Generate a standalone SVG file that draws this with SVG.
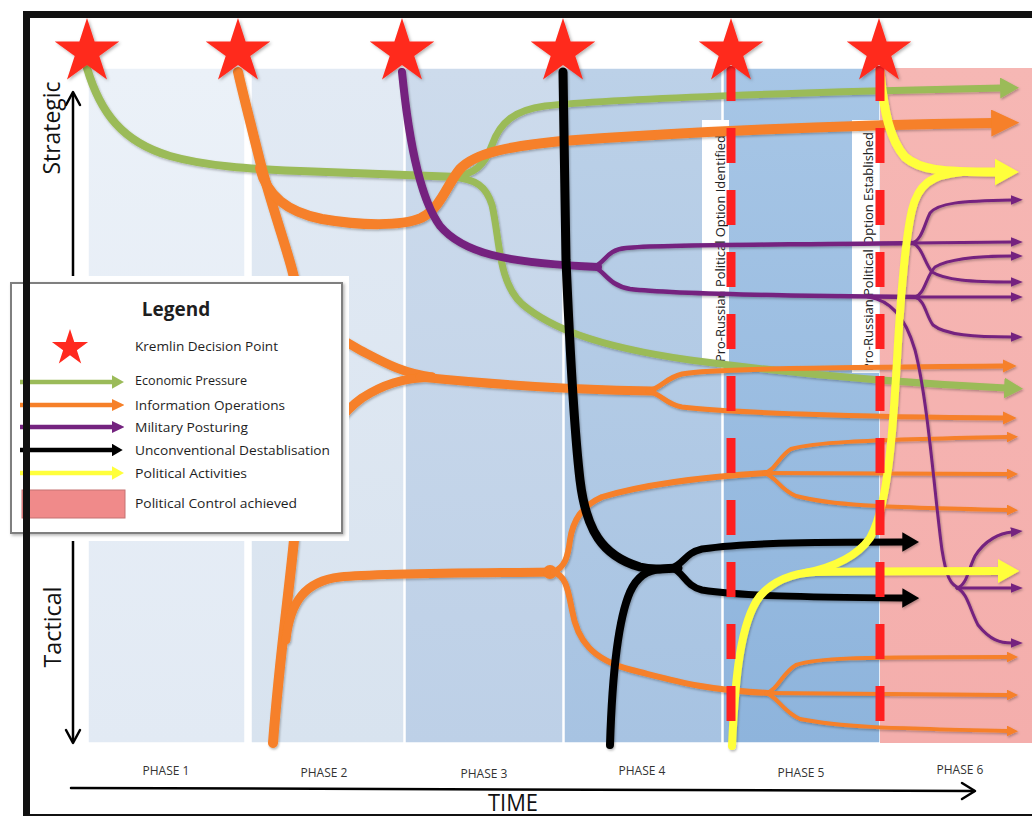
<svg xmlns="http://www.w3.org/2000/svg" width="1032" height="816" viewBox="0 0 1032 816">
  <defs>
    <style>
      .txt{font-family:"Open Sans","Liberation Sans",sans-serif;fill:#1e1e1e}
      .phase{font-size:12px;text-anchor:middle;fill:#333}
      .axis{font-size:23px;fill:#111;text-anchor:middle}
      .leg{font-size:13px}
      .vlabel{font-size:13px;fill:#222}
      .ln{fill:none;stroke-linecap:round;stroke-linejoin:round}
      .g{stroke:#9bbb59}
      .o{stroke:#f68029}
      .p{stroke:#74237f}
      .k{stroke:#000}
      .y{stroke:#ffff3b}
      .dash{fill:none;stroke:#ff2020;stroke-width:9;stroke-dasharray:35 27}
      .panel{stroke:#fff;stroke-width:1.5}
      .star{fill:#ff2a1f}
      .ax{fill:none;stroke:#000;stroke-width:2.5;stroke-linecap:round;stroke-linejoin:round}
    </style>
    <linearGradient id="ph1" x1="0" y1="0" x2="0" y2="1"><stop offset="0" stop-color="#ebf1f8"/><stop offset="1" stop-color="#e2eaf4"/></linearGradient>
    <linearGradient id="ph2" x1="0" y1="0" x2="0" y2="1"><stop offset="0" stop-color="#e2eaf4"/><stop offset="1" stop-color="#d8e3ef"/></linearGradient>
    <linearGradient id="ph3" x1="0" y1="0" x2="0" y2="1"><stop offset="0" stop-color="#cddbec"/><stop offset="1" stop-color="#bdd0e7"/></linearGradient>
    <linearGradient id="ph4" x1="0" y1="0" x2="0" y2="1"><stop offset="0" stop-color="#bcd1e8"/><stop offset="1" stop-color="#a7c3e2"/></linearGradient>
    <linearGradient id="ph5" x1="0" y1="0" x2="0" y2="1"><stop offset="0" stop-color="#a7c6e6"/><stop offset="1" stop-color="#8eb4dc"/></linearGradient>
    <linearGradient id="ph6" x1="0" y1="0" x2="0" y2="1"><stop offset="0" stop-color="#f6b7b4"/><stop offset="1" stop-color="#f4aeac"/></linearGradient>

    <marker id="ah-g" viewBox="0 0 10 10" refX="1" refY="5" markerWidth="2.7" markerHeight="3" preserveAspectRatio="none" orient="auto" markerUnits="strokeWidth"><path d="M0,0 L10,5 L0,10 z" fill="#9bbb59"/></marker>
    <marker id="ah-o" viewBox="0 0 10 10" refX="1" refY="5" markerWidth="2.8" markerHeight="2.7" preserveAspectRatio="none" orient="auto" markerUnits="strokeWidth"><path d="M0,0 L10,5 L0,10 z" fill="#f68029"/></marker>
    <marker id="ah-p" viewBox="0 0 10 10" refX="1" refY="5" markerWidth="4" markerHeight="3.2" preserveAspectRatio="none" orient="auto" markerUnits="strokeWidth"><path d="M0,0 L10,5 L0,10 z" fill="#74237f"/></marker>
    <marker id="ah-pl" viewBox="0 0 10 10" refX="1" refY="5" markerWidth="2.8" markerHeight="2.7" preserveAspectRatio="none" orient="auto" markerUnits="strokeWidth"><path d="M0,0 L10,5 L0,10 z" fill="#74237f"/></marker>
    <marker id="ah-k" viewBox="0 0 10 10" refX="1" refY="5" markerWidth="2.4" markerHeight="2.8" preserveAspectRatio="none" orient="auto" markerUnits="strokeWidth"><path d="M0,0 L10,5 L0,10 z" fill="#000"/></marker>
    <marker id="ah-y" viewBox="0 0 10 10" refX="1" refY="5" markerWidth="2.7" markerHeight="3" preserveAspectRatio="none" orient="auto" markerUnits="strokeWidth"><path d="M0,0 L10,5 L0,10 z" fill="#ffff3b"/></marker>

    <path id="star" d="M0,-34 L7.6,-10.5 L32.3,-10.5 L12.3,4 L20,27.5 L0,13 L-20,27.5 L-12.3,4 L-32.3,-10.5 L-7.6,-10.5 Z"/>

    <filter id="sh" x="-5%" y="-5%" width="110%" height="110%">
      <feDropShadow dx="1" dy="1.5" stdDeviation="1.2" flood-color="#000" flood-opacity="0.28"/>
    </filter>
    <filter id="sh2" x="-10%" y="-10%" width="120%" height="120%">
      <feDropShadow dx="1.5" dy="1.5" stdDeviation="1.5" flood-color="#000" flood-opacity="0.3"/>
    </filter>
  </defs>

  <rect width="1032" height="816" fill="#fff"/>

  <!-- phase columns -->
  <g id="phases">
    <rect class="panel" x="88" y="68" width="157" height="675" fill="url(#ph1)"/>
    <rect class="panel" x="251" y="68" width="153" height="675" fill="url(#ph2)"/>
    <rect class="panel" x="405" y="68" width="158" height="675" fill="url(#ph3)"/>
    <rect class="panel" x="564" y="68" width="158" height="675" fill="url(#ph4)"/>
    <rect class="panel" x="723" y="68" width="157" height="675" fill="url(#ph5)"/>
    <rect x="880" y="68" width="152" height="675" fill="url(#ph6)"/>
  </g>

  <!-- milestone labels -->
  <g id="milestone-identified">
    <rect x="702" y="120" width="27" height="243" fill="#fff"/>
    <text class="txt vlabel" transform="translate(725,362) rotate(-90)" textLength="227" lengthAdjust="spacingAndGlyphs">Pro-Russian Political Option Identified</text>
  </g>
  <g id="milestone-established">
    <rect x="852" y="120" width="27" height="253" fill="#fff"/>
    <text class="txt vlabel" transform="translate(873,371) rotate(-90)" textLength="239" lengthAdjust="spacingAndGlyphs">Pro-Russian Political Option Established</text>
  </g>

  <!-- strands of activity -->
  <g id="connectors" filter="url(#sh)">
    <g id="economic-pressure" class="ln g">
      <path stroke-width="8" d="M87,68 C100,112 122,142 170,156 C205,166 250,169 300,171 C360,173 420,176 458,177"/>
      <path stroke-width="7" marker-end="url(#ah-g)" d="M452,177 C474,175 485,165 492,145 C500,122 515,110 545,106 C610,99 800,92 1002,88"/>
      <path stroke-width="7" marker-end="url(#ah-g)" d="M452,177 C476,179 486,186 492,205 C500,240 498,282 522,304 C548,326 592,346 690,360 C780,372 880,382 1006,388"/>
    </g>
    <g id="information-operations" class="ln o">
      <path stroke-width="10" d="M273,743 C279,662 289,592 294,540 L298,300 C296,272 276,222 261,165 C251,125 244,98 238,72"/>
      <path stroke-width="10" marker-end="url(#ah-o)" d="M260,168 C267,196 287,212 322,219 C362,226 402,226 421,218 C441,208 446,186 460,169 C476,152 512,146 562,141 C700,131 850,125 994,123"/>
      <path stroke-width="9" d="M298,305 C318,325 338,338 360,350 C385,363 402,373 432,377"/>
      <path stroke-width="9" d="M296,480 C318,445 342,412 362,398 C382,385 402,378 432,377"/>
      <path stroke-width="9" d="M420,377 C480,383 560,390 652,391"/>
      <path stroke-width="5" marker-end="url(#ah-o)" d="M648,391 C662,388 665,378 682,374 C705,370 760,368 1004,366"/>
      <path stroke-width="5" marker-end="url(#ah-o)" d="M648,391 C662,394 665,404 682,407 C722,412 852,417 1004,418"/>
      <path stroke-width="9" d="M286,640 C290,602 305,581 340,577 C380,573 480,573 553,572"/>
      <circle cx="550" cy="572" r="7" fill="#f68029" stroke="none"/>
      <path stroke-width="6" d="M553,572 C565,568 568,556 570,540 C573,520 582,506 602,497 C642,485 702,477 766,473"/>
      <path stroke-width="6" d="M553,572 C566,575 568,590 572,610 C577,640 592,660 632,670 C672,680 702,690 768,693"/>
      <path stroke-width="4" marker-end="url(#ah-o)" d="M764,473 C776,470 779,456 791,449 C811,443 851,440 1008,437"/>
      <path stroke-width="4" marker-end="url(#ah-o)" d="M764,473 L1008,474"/>
      <path stroke-width="4" marker-end="url(#ah-o)" d="M764,473 C776,476 779,489 796,496 C831,505 871,507 1008,510"/>
      <path stroke-width="4" marker-end="url(#ah-o)" d="M766,693 C778,690 782,673 796,665 C816,658 851,657 1008,657"/>
      <path stroke-width="4" marker-end="url(#ah-o)" d="M766,693 L1008,695"/>
      <path stroke-width="4" marker-end="url(#ah-o)" d="M766,693 C778,697 782,711 800,719 C840,727 880,728 1008,731"/>
    </g>
    <g id="military-posturing" class="ln p">
      <path stroke-width="8" d="M402,72 C408,132 418,196 440,226 C462,252 502,263 598,267"/>
      <path stroke-width="4.5" d="M594,267 C606,262 606,250 626,248 C662,244 800,245 915,243"/>
      <path stroke-width="4.5" d="M594,267 C606,272 608,285 630,289 C670,294 800,296 918,297"/>
      <path stroke-width="3" marker-end="url(#ah-p)" d="M912,243 C922,240 924,225 930,213 C938,203 960,201 1012,200"/>
      <path stroke-width="3" marker-end="url(#ah-p)" d="M912,243 L1012,242"/>
      <path stroke-width="3" marker-end="url(#ah-p)" d="M912,243 C922,246 924,262 932,272 C945,280 970,282 1012,282"/>
      <path stroke-width="3" marker-end="url(#ah-p)" d="M915,297 C925,294 926,276 935,267 C950,258 980,256 1012,256"/>
      <path stroke-width="3" marker-end="url(#ah-p)" d="M915,297 L1012,297"/>
      <path stroke-width="3" marker-end="url(#ah-p)" d="M915,297 C925,300 926,316 933,325 C945,335 975,337 1012,337"/>
      <path stroke-width="3" d="M868,297 C890,300 905,316 915,350 C928,400 935,500 942,550 C946,575 950,586 960,588"/>
      <path stroke-width="3" marker-end="url(#ah-p)" d="M957,588 C967,585 968,570 975,556 C985,540 1000,533 1012,532"/>
      <path stroke-width="3" marker-end="url(#ah-p)" d="M957,588 L1012,588"/>
      <path stroke-width="3" marker-end="url(#ah-p)" d="M957,588 C967,592 970,610 978,625 C990,640 1000,643 1012,643"/>
    </g>
    <g id="unconventional-destabilisation" class="ln k">
      <path stroke-width="9" d="M563,72 L566,260 C569,330 573,420 580,480 C586,530 602,556 640,567 C652,570 662,569 678,568"/>
      <path stroke-width="8" d="M610,745 C612,680 617,622 630,592 C637,577 646,570 662,569"/>
      <path stroke-width="7" marker-end="url(#ah-k)" d="M672,568 C684,564 685,553 702,549 C742,543 800,542 904,542"/>
      <path stroke-width="7" marker-end="url(#ah-k)" d="M672,568 C684,572 685,586 702,590 C742,596 800,597 904,598"/>
    </g>
    <g id="political-activities" class="ln y">
      <path stroke-width="9" marker-end="url(#ah-y)" d="M880,72 C884,112 890,140 905,157 C920,170 940,172 997,172"/>
      <path stroke-width="8" marker-end="url(#ah-y)" d="M732,746 C735,680 740,622 760,596 C775,579 795,573 815,572 C880,571 940,571 1000,571"/>
      <path stroke-width="8" d="M805,573 C835,567 858,555 870,538 C886,510 892,450 897,360 C901,290 905,240 912,210 C918,185 930,175 962,172"/>
    </g>
  </g>

  <!-- decision milestones -->
  <g id="milestone-lines">
    <path class="dash" d="M731,66 V723"/>
    <path class="dash" d="M880,66 V723"/>
  </g>

  <!-- Kremlin decision points -->
  <g id="decision-points" class="star" filter="url(#sh2)">
    <use href="#star" transform="translate(87,52)"/>
    <use href="#star" transform="translate(238,52)"/>
    <use href="#star" transform="translate(402,52)"/>
    <use href="#star" transform="translate(563,52)"/>
    <use href="#star" transform="translate(731,52)"/>
    <use href="#star" transform="translate(879,52)"/>
  </g>

  <!-- axes -->
  <g id="axes">
    <path class="ax" d="M73,94 V741"/>
    <path class="ax" d="M66,105 L73,92 L80,105"/>
    <path class="ax" d="M66,730 L73,743 L80,730"/>
    <text class="txt axis" transform="translate(60,128) rotate(-90)" textLength="93" lengthAdjust="spacingAndGlyphs">Strategic</text>
    <text class="txt axis" transform="translate(61,627) rotate(-90)" textLength="81" lengthAdjust="spacingAndGlyphs">Tactical</text>
    <path class="ax" d="M71,788 L974,791"/>
    <path class="ax" d="M962,783 L975,791 L962,799"/>
    <text class="txt axis" x="513" y="811" font-size="21" textLength="50" lengthAdjust="spacingAndGlyphs">TIME</text>
  </g>

  <g id="phase-labels" class="txt phase">
    <text x="166" y="775">PHASE 1</text>
    <text x="324" y="777">PHASE 2</text>
    <text x="484" y="778">PHASE 3</text>
    <text x="642" y="775">PHASE 4</text>
    <text x="801" y="777">PHASE 5</text>
    <text x="960" y="774">PHASE 6</text>
  </g>

  <!-- legend -->
  <g id="legend">
    <rect x="8" y="276" width="341" height="265" fill="#fff"/>
    <rect x="11" y="283" width="331" height="250" fill="#fff" stroke="#7f7f7f" stroke-width="2" filter="url(#sh2)"/>
    <text class="txt" x="176" y="316" text-anchor="middle" font-size="19" font-weight="bold">Legend</text>
    <use href="#star" class="star" transform="translate(70,348) scale(0.56)"/>
    <text class="txt leg" x="135" y="351" textLength="143" lengthAdjust="spacingAndGlyphs">Kremlin Decision Point</text>
    <path class="g" stroke-width="4.5" fill="none" marker-end="url(#ah-g)" d="M20,382 H113"/>
    <text class="txt leg" x="135" y="385" textLength="112" lengthAdjust="spacingAndGlyphs">Economic Pressure</text>
    <path class="o" stroke-width="4.5" fill="none" marker-end="url(#ah-o)" d="M20,405 H113"/>
    <text class="txt leg" x="135" y="410" textLength="150" lengthAdjust="spacingAndGlyphs">Information Operations</text>
    <path class="p" stroke-width="4.5" fill="none" marker-end="url(#ah-pl)" d="M20,427 H113"/>
    <text class="txt leg" x="135" y="432" textLength="113" lengthAdjust="spacingAndGlyphs">Military Posturing</text>
    <path class="k" stroke-width="4.5" fill="none" marker-end="url(#ah-k)" d="M20,450 H113"/>
    <text class="txt leg" x="135" y="455" textLength="195" lengthAdjust="spacingAndGlyphs">Unconventional Destablisation</text>
    <path class="y" stroke-width="4.5" fill="none" marker-end="url(#ah-y)" d="M20,473 H113"/>
    <text class="txt leg" x="135" y="478" textLength="112" lengthAdjust="spacingAndGlyphs">Political Activities</text>
    <rect x="22" y="490" width="103" height="28" fill="#f08a8a" stroke="#c57373" stroke-width="1"/>
    <text class="txt leg" x="135" y="508" textLength="162" lengthAdjust="spacingAndGlyphs">Political Control achieved</text>
  </g>

  <!-- frame -->
  <g id="frame" fill="#111">
    <rect x="23" y="11" width="1009" height="7"/>
    <rect x="23" y="11" width="7" height="805"/>
    <rect x="23" y="814" width="1009" height="2"/>
  </g>
</svg>
